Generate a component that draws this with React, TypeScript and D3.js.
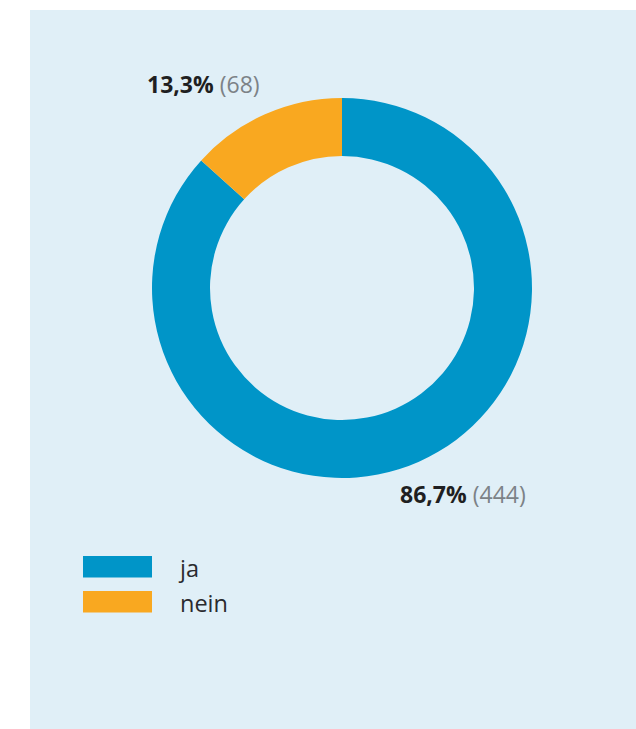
import React from "react";
import * as d3 from "d3";

const categories = ["ja", "nein"];
const counts = [444, 68];
const percents = ["86,7%", "13,3%"];
const colors = ["#0095c8", "#f9a820"];

const W = 636;
const H = 729;
const FONT = "'Open Sans', 'Noto Sans', sans-serif";

export default function App() {
  const cx = 342;
  const cy = 288;
  const outerR = 190;
  const innerR = 132;

  const pie = d3
    .pie<number>()
    .sort(null)
    .value((d) => d)
    .startAngle(0)
    .endAngle(2 * Math.PI);
  const arcs = pie(counts);
  const arc = d3.arc<d3.PieArcDatum<number>>().innerRadius(innerR).outerRadius(outerR);

  const labelPos = [
    { x: 400, y: 503, anchor: "start" },
    { x: 147, y: 93, anchor: "start" },
  ];

  return (
    <svg
      width={W}
      height={H}
      style={{ position: "absolute", left: 0, top: 0 }}
      fontFamily={FONT}
    >
      <rect x={0} y={0} width={W} height={H} fill="#ffffff" />
      <rect x={30} y={10} width={W - 30} height={H - 10} fill="#e0eff7" />
      <g transform={`translate(${cx},${cy})`}>
        {arcs.map((a, i) => (
          <path key={i} d={arc(a) || ""} fill={colors[i]} />
        ))}
      </g>
      {arcs.map((a, i) => (
        <text key={"l" + i} x={labelPos[i].x} y={labelPos[i].y} fontSize={23} textAnchor={labelPos[i].anchor}>
          <tspan fontWeight="bold" fill="#1f1f22">{percents[i]}</tspan>
          <tspan fill="#7c8287"> ({counts[i]})</tspan>
        </text>
      ))}
      {categories.map((c, i) => (
        <g key={"lg" + i}>
          <rect x={83} y={556 + i * 35} width={69} height={21.5} fill={colors[i]} />
          <text x={180} y={577 + i * 35} fontSize={23.5} fill="#2a2a2e">
            {c}
          </text>
        </g>
      ))}
    </svg>
  );
}
